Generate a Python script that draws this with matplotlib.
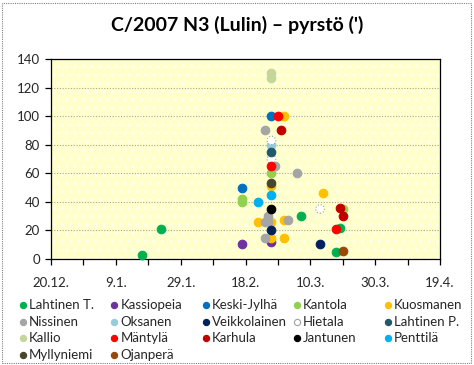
import matplotlib
matplotlib.use('Agg')
import matplotlib.pyplot as plt
import matplotlib.dates as mdates
import pandas as pd
from matplotlib.patches import Rectangle
from matplotlib.lines import Line2D

plt.rcParams['font.family'] = ['Lato', 'DejaVu Sans']

# Havainnot: tarkkailija, väri, päivämäärät ja pyrstön pituus (')
observers = ['Lahtinen T.', 'Kassiopeia', 'Keski-Jylhä', 'Kantola', 'Kuosmanen',
             'Nissinen', 'Oksanen', 'Veikkolainen', 'Hietala', 'Lahtinen P.',
             'Kallio', 'Mäntylä', 'Karhula', 'Jantunen', 'Penttilä',
             'Myllyniemi', 'Ojanperä']
colors = ['#00B050', '#7030A0', '#0070C0', '#92D050', '#FFC000',
          '#A5A5A5', '#93CDDD', '#002060', '#FFFFFF', '#215968',
          '#C3D69B', '#FF0000', '#C00000', '#000000', '#00B0F0',
          '#4A452A', '#984807']
dates = [
    ['2009-01-17', '2009-01-23', '2009-03-07', '2009-03-19', '2009-03-18'],
    ['2009-02-17', '2009-02-26'],
    ['2009-02-17', '2009-02-26'],
    ['2009-02-17', '2009-02-17', '2009-02-26', '2009-03-20'],
    ['2009-03-02', '2009-02-26', '2009-02-22', '2009-03-02', '2009-03-02',
     '2009-02-26', '2009-02-26', '2009-03-14'],
    ['2009-02-24', '2009-02-27', '2009-03-06', '2009-02-25', '2009-02-24',
     '2009-02-25', '2009-03-03', '2009-02-24'],
    ['2009-02-26'],
    ['2009-02-26', '2009-03-13'],
    ['2009-02-26', '2009-02-26', '2009-03-13'],
    ['2009-02-26'],
    ['2009-02-26', '2009-02-26'],
    ['2009-02-28', '2009-02-26', '2009-03-18'],
    ['2009-03-01', '2009-03-19', '2009-03-20'],
    ['2009-02-26'],
    ['2009-02-26', '2009-02-22'],
    ['2009-02-26'],
    ['2009-03-20'],
]
values = [
    [3, 21, 30, 21.5, 5],
    [10.5, 12],
    [50, 100],
    [42, 40, 60, 35],
    [100, 51, 26, 27, 15, 26, 15, 46],
    [90, 65, 60, 30, 26, 26, 27, 15],
    [80],
    [20, 10.5],
    [83, 70, 35],
    [75],
    [130, 127],
    [100, 65, 21],
    [90, 36, 30],
    [35],
    [45, 40],
    [53],
    [5.5],
]

W, H = 474, 365
fig = plt.figure(figsize=(W / 100, H / 100), dpi=100)
ax = fig.add_axes([51 / W, 1 - 259 / H, 389 / W, 200 / H])

# Taustaväri pisteineen
ax.set_facecolor('#FFFFCC')
ax.add_patch(Rectangle((0, 0), 1, 1, transform=ax.transAxes, facecolor='none',
                       edgecolor='#FFFFF0', hatch='..', linewidth=0, zorder=0))

for name, col, d, v in zip(observers, colors, dates, values):
    x = mdates.date2num(pd.to_datetime(d))
    ec = '#A0A0A0' if col == '#FFFFFF' else col
    ls = ':' if col == '#FFFFFF' else '-'
    ax.scatter(x, v, s=38, color=col, edgecolors=ec, linewidths=0.8,
               linestyle=ls, zorder=3, clip_on=False)

start = mdates.date2num(pd.Timestamp('2008-12-20'))
ax.set_xlim(start, start + 120)
ax.set_ylim(0, 140)
ax.set_yticks(range(0, 141, 20))
ax.set_xticks([start + i for i in range(0, 121, 10)])
xlabels = []
for i in range(0, 121, 10):
    t = pd.Timestamp('2008-12-20') + pd.Timedelta(days=i)
    xlabels.append(f'{t.day}.{t.month}.' if i % 20 == 0 else '')
ax.set_xticklabels(xlabels)

ax.grid(axis='y', color='#A8A890', linestyle=(0, (1, 1.5)), linewidth=0.8, zorder=1)
ax.set_axisbelow(True)
for s in ax.spines.values():
    s.set_color('black')
    s.set_linewidth(0.9)
ax.tick_params(axis='both', direction='out', length=4, width=0.9,
               labelsize=9.5, colors='black', labelcolor='#262626')
ax.tick_params(axis='x', pad=9)
ax.tick_params(axis='y', pad=4)

fig.text(0.5, 1 - 25 / H, "C/2007 N3 (Lulin) \u2013 pyrstö (')", ha='center',
         va='center', fontsize=14, fontweight='bold', color='black')

# Legenda riveittäin kuten Excelissä, tasavälisin sarakkein
for i, (name, col) in enumerate(zip(observers, colors)):
    r, c = divmod(i, 5)
    mx = (23 + 91.3 * c) / W
    my = 1 - (305 + 16.7 * r) / H
    ec = '#A0A0A0' if col == '#FFFFFF' else col
    fig.add_artist(Line2D([mx], [my], transform=fig.transFigure, marker='o',
                          linestyle='none', markersize=4.5, markerfacecolor=col,
                          markeredgecolor=ec, markeredgewidth=0.8))
    fig.text(mx + 6 / W, my, name, ha='left', va='center', fontsize=9.5,
             color='#262626')

fig.add_artist(Rectangle((2 / W, 2 / H), 469 / W, 360 / H,
                         transform=fig.transFigure, fill=False,
                         edgecolor='#808080', linestyle=(0, (1, 1)),
                         linewidth=0.8))

fig.savefig('out.png', dpi=100)
